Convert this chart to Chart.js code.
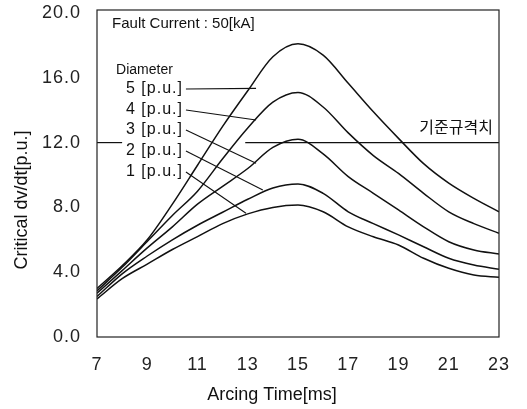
<!DOCTYPE html>
<html lang="ko">
<head>
    <meta charset="UTF-8">
    <title>Critical dv/dt vs Arcing Time</title>
    <script src="https://cdn.jsdelivr.net/npm/chart.js@4.4.0/dist/chart.umd.min.js"></script>
    <style>
        body { margin: 0; background: #fff; }
        #wrap { width: 527px; height: 409px; position: relative; }
    </style>
</head>
<body>
<div id="wrap"><canvas id="chart"></canvas></div>
<script>
// arcing time [ms]
const arcingTime = [7, 8, 9, 10, 11, 12, 13, 14, 15, 16, 17, 18, 19, 20, 21, 22, 23];
// critical dv/dt [p.u.] per diameter
const dia1 = [2.35, 3.6, 4.5, 5.4, 6.2, 7.0, 7.6, 8.0, 8.15, 7.73, 6.8, 6.19, 5.68, 4.86, 4.24, 3.83, 3.69];
const dia2 = [2.5, 3.9, 5.0, 6.0, 6.9, 7.7, 8.5, 9.2, 9.45, 8.87, 7.73, 7.0, 6.3, 5.57, 4.86, 4.44, 4.18];
const dia3 = [2.7, 4.1, 5.5, 6.8, 8.2, 9.3, 10.4, 11.7, 12.2, 11.3, 9.9, 8.87, 7.84, 6.8, 5.88, 5.37, 5.12];
const dia4 = [2.85, 4.3, 5.9, 7.5, 9.0, 11.0, 12.9, 14.5, 15.1, 14.2, 12.6, 11.2, 10.1, 8.87, 7.73, 7.0, 6.4];
const dia5 = [3.0, 4.4, 6.0, 8.2, 10.6, 13.0, 15.2, 17.3, 18.1, 17.4, 15.66, 13.9, 12.26, 10.7, 9.5, 8.56, 7.73];

const xTicks = [7, 9, 11, 13, 15, 17, 19, 21, 23];
const yTicks = [0, 4, 8, 12, 16, 20];

// standard limit (기준규격치)
const limitValue = 12.0;
const limitFrom = 12.9;
const limitStub = [7, 8];

// label leader lines: [arcing time, dv/dt] start (at label) and end (on curve), diameter 1..5
const diameterLabels = ['1 [p.u.]', '2 [p.u.]', '3 [p.u.]', '4 [p.u.]', '5 [p.u.]'];
const leaderStart = [[10.54, 10.19], [10.54, 11.48], [10.54, 12.78], [10.54, 14.01], [10.54, 15.31]];
const leaderEnd = [[12.93, 7.64], [13.6, 9.07], [13.33, 10.72], [13.33, 13.4], [13.33, 15.35]];

const FONT = "'Liberation Sans', Arial, sans-serif";
const INK = '#111';

function toPoints(ys) {
    return arcingTime.map((x, i) => ({ x: x, y: ys[i] }));
}

const datasets = [dia1, dia2, dia3, dia4, dia5].map((ys, i) => ({
    label: diameterLabels[i],
    data: toPoints(ys),
    borderColor: INK,
    borderWidth: 1.5,
    pointRadius: 0,
    cubicInterpolationMode: 'monotone'
}));

datasets.push({
    label: 'limit',
    data: [{ x: limitFrom, y: limitValue }, { x: arcingTime[arcingTime.length - 1], y: limitValue }],
    borderColor: INK, borderWidth: 1.2, pointRadius: 0
});
datasets.push({
    label: 'limit stub',
    data: limitStub.map(x => ({ x: x, y: limitValue })),
    borderColor: INK, borderWidth: 1.2, pointRadius: 0
});
leaderStart.forEach((s, i) => {
    datasets.push({
        label: 'leader ' + (i + 1),
        data: [{ x: s[0], y: s[1] }, { x: leaderEnd[i][0], y: leaderEnd[i][1] }],
        borderColor: INK, borderWidth: 1.1, pointRadius: 0
    });
});

// frame, annotation texts and axis titles
const annotations = {
    id: 'annotations',
    beforeDraw(chart) {
        chart.ctx.letterSpacing = '1px';
    },
    afterDraw(chart) {
        const { ctx, chartArea: a, scales } = chart;
        const px = v => scales.x.getPixelForValue(v);
        const py = v => scales.y.getPixelForValue(v);
        ctx.save();
        ctx.letterSpacing = '0px';
        ctx.strokeStyle = '#222';
        ctx.lineWidth = 1.2;
        ctx.strokeRect(a.left, a.top - 3, a.right - a.left, a.bottom - a.top + 3);

        ctx.fillStyle = INK;
        ctx.textBaseline = 'middle';
        ctx.font = '15px ' + FONT;
        ctx.textAlign = 'left';
        ctx.fillText('Fault Current : 50[kA]', px(7.6), py(19.32));
        ctx.font = '14px ' + FONT;
        ctx.fillText('Diameter', px(7.76), py(16.48));

        ctx.font = '16px ' + FONT;
        ctx.letterSpacing = '1px';
        ctx.textAlign = 'right';
        diameterLabels.forEach((t, i) => {
            ctx.fillText(t, px(leaderStart[i][0]) - 3, py(leaderStart[i][1]));
        });
        ctx.letterSpacing = '0px';

        ctx.font = "16px 'Noto Sans CJK KR', sans-serif";
        ctx.fillText('기준규격치', px(22.76), py(12.98));

        // axis titles
        ctx.font = '18px ' + FONT;
        ctx.textAlign = 'center';
        ctx.fillText('Arcing Time[ms]', 272, 395);
        ctx.translate(22, 200);
        ctx.rotate(-Math.PI / 2);
        ctx.fillText('Critical dv/dt[p.u.]', 0, 0);
        ctx.restore();
        ctx.letterSpacing = '0px';
    }
};

new Chart(document.getElementById('chart'), {
    type: 'line',
    data: { datasets: datasets },
    plugins: [annotations],
    options: {
        responsive: true,
        maintainAspectRatio: false,
        animation: false,
        layout: { padding: { top: 13, right: 28, left: 0, bottom: 0 } },
        plugins: { legend: { display: false }, tooltip: { enabled: false } },
        scales: {
            x: {
                type: 'linear',
                min: 7, max: 23,
                afterFit: s => { s.height = 72; s.paddingLeft = 0; s.paddingRight = 0; },
                afterBuildTicks: s => { s.ticks = xTicks.map(v => ({ value: v })); },
                grid: { display: false, drawTicks: false },
                border: { display: false },
                ticks: { color: '#222', padding: 17, font: { family: FONT, size: 18 } }
            },
            y: {
                min: 0, max: 20,
                afterFit: s => { s.width = 97; s.paddingTop = 0; s.paddingBottom = 0; },
                afterBuildTicks: s => { s.ticks = yTicks.map(v => ({ value: v })); },
                grid: { display: false, drawTicks: false },
                border: { display: false },
                ticks: {
                    color: '#222', padding: 16,
                    font: { family: FONT, size: 18 },
                    callback: v => v.toFixed(1)
                }
            }
        }
    }
});
</script>
</body>
</html>
